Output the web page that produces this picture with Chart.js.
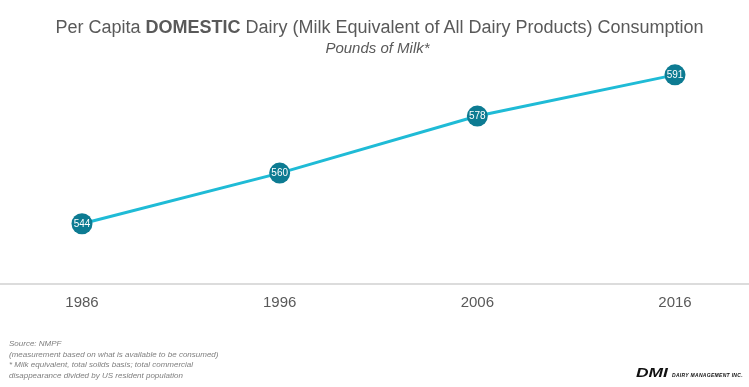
<!DOCTYPE html>
<html><head><meta charset="utf-8">
<script src="https://cdn.jsdelivr.net/npm/chart.js@4"></script>
<style>
html,body{margin:0;padding:0;background:#fff;width:749px;height:387px;overflow:hidden;font-family:"Liberation Sans",Arial,sans-serif;}
#wrap{position:relative;width:749px;height:387px;}
canvas{position:absolute;left:0;top:0;}
.title{position:absolute;left:0;width:749px;text-align:center;color:#595959;}
#t1{top:17px;left:5px;font-size:18px;}
#t2{top:39px;left:3px;font-size:15px;font-style:italic;}
#foot{position:absolute;left:9px;top:339px;font-size:8px;font-style:italic;color:#7f7f7f;line-height:10.6px;}
#logo{position:absolute;left:636px;top:363px;white-space:nowrap;}
#logo b{display:inline-block;font-size:12px;font-style:italic;font-weight:900;color:#111;transform:scaleX(1.45);transform-origin:left center;margin-right:14px;}
#logo span{font-size:5px;font-weight:bold;font-style:italic;color:#111;letter-spacing:0.3px;}
</style></head>
<body><div id="wrap">
<canvas id="c" width="749" height="387"></canvas>
<div class="title" id="t1">Per Capita <b>DOMESTIC</b> Dairy (Milk Equivalent of All Dairy Products) Consumption</div>
<div class="title" id="t2">Pounds of Milk*</div>
<div id="foot">Source: NMPF<br>(measurement based on what is available to be consumed)<br>* Milk equivalent, total solids basis; total commercial<br>disappearance divided by US resident population</div>
<div id="logo"><b>DMI</b><span>DAIRY MANAGEMENT INC.</span></div>
</div>
<script>
const years = [1986, 1996, 2006, 2016];
const consumption = [544, 560, 578, 591];
const tickLabels = ['1986', '1996', '2006', '2016'];

const pointLabels = {
  id: 'pointLabels',
  afterDatasetsDraw(chart) {
    const ctx = chart.ctx;
    const meta = chart.getDatasetMeta(0);
    ctx.save();
    ctx.fillStyle = '#ffffff';
    ctx.font = '10px "Liberation Sans", Arial, sans-serif';
    ctx.textAlign = 'center';
    ctx.textBaseline = 'middle';
    meta.data.forEach((pt, i) => {
      ctx.fillText(String(consumption[i]), pt.x, pt.y + 0.5);
    });
    ctx.restore();
  }
};

new Chart(document.getElementById('c'), {
  type: 'line',
  data: {
    datasets: [{
      data: years.map((y, i) => ({ x: y, y: consumption[i] })),
      borderColor: '#1fbbd6',
      borderWidth: 3,
      pointRadius: 10.5,
      pointHoverRadius: 10.5,
      pointBackgroundColor: '#0d7b92',
      pointBorderColor: '#0d7b92',
      pointBorderWidth: 0,
      tension: 0,
      clip: false
    }]
  },
  options: {
    responsive: false,
    devicePixelRatio: 1,
    animation: false,
    layout: { autoPadding: false, padding: { top: 40, left: 0, right: 0, bottom: 0 } },
    plugins: { legend: { display: false }, tooltip: { enabled: false } },
    scales: {
      x: {
        type: 'linear',
        min: 1981.852,
        max: 2019.744,
        afterBuildTicks(scale) { scale.ticks = years.map(v => ({ value: v })); },
        afterFit(scale) { scale.height = 103; },
        grid: { display: false },
        border: { display: true, color: '#dcdcdc', width: 2 },
        ticks: {
          padding: 2,
          color: '#595959',
          font: { size: 15, family: '"Liberation Sans", Arial, sans-serif' },
          callback: (v) => tickLabels[years.indexOf(v)] ?? ''
        }
      },
      y: {
        display: false,
        min: 525,
        max: 602
      }
    }
  },
  plugins: [pointLabels]
});
</script>
</body></html>
